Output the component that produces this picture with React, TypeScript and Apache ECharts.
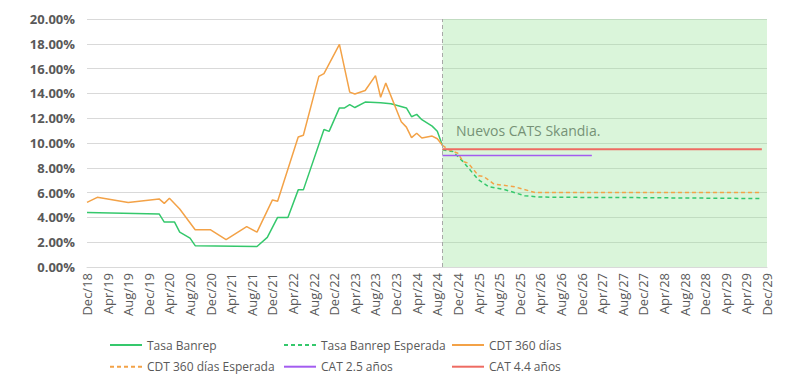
import React, { useEffect, useRef } from "react";
import * as echarts from "echarts";

// ---- Data -----------------------------------------------------------------
const monthNames = ["Jan", "Feb", "Mar", "Apr", "May", "Jun", "Jul", "Aug", "Sep", "Oct", "Nov", "Dec"];
// Monthly categories from Dec/18 to Dec/29
const categories: string[] = [];
for (let i = 0; i <= 132; i++) {
  const m = (11 + i) % 12;
  const y = 18 + Math.floor((11 + i) / 12);
  categories.push(`${monthNames[m]}/${y}`);
}

// Tick labels shown every 4 months (as printed in the reference)
const tickLabels = [
  "Dec/18", "Apr/19", "Aug/19", "Dec/19", "Apr/20", "Aug/20", "Dec/20", "Apr/21", "Aug/21",
  "Dec/21", "Apr/22", "Aug/22", "Dec/22", "Apr/23", "Aug/23", "Dec/23", "Apr/24", "Aug/24",
  "Dec/24", "Apr/25", "Aug/25", "Dec/25", "Apr/26", "Aug/26", "Dec/26", "Apr/27", "Aug/27",
  "Dec/27", "Apr/28", "Aug/28", "Dec/28", "Apr/29", "Apr/29", "Dec/29",
];

const tasaBanrep: [string, number][] = [
  ["Dec/18", 4.4], ["Feb/20", 4.28], ["Mar/20", 3.62], ["May/20", 3.62], ["Jun/20", 2.81],
  ["Aug/20", 2.33], ["Sep/20", 1.72], ["Sep/21", 1.65], ["Nov/21", 2.39], ["Jan/22", 4.0],
  ["Mar/22", 4.0], ["May/22", 6.22], ["Jun/22", 6.22], ["Oct/22", 11.09], ["Nov/22", 10.94],
  ["Jan/23", 12.83], ["Feb/23", 12.83], ["Mar/23", 13.09], ["Apr/23", 12.86], ["Jun/23", 13.3],
  ["Sep/23", 13.25], ["Nov/23", 13.17], ["Feb/24", 12.83], ["Mar/24", 12.12], ["Apr/24", 12.31],
  ["May/24", 11.88], ["Jul/24", 11.36], ["Aug/24", 10.94], ["Sep/24", 9.8],
];

const tasaBanrepEsperada: [string, number][] = [
  ["Sep/24", 9.45], ["Nov/24", 9.32], ["Jan/25", 8.5], ["Feb/25", 8.0], ["Apr/25", 7.03],
  ["Jun/25", 6.47], ["Sep/25", 6.25], ["Jan/26", 5.74], ["Apr/26", 5.64], ["Aug/26", 5.62],
  ["Sep/27", 5.6], ["Nov/29", 5.52],
];

const cdt360: [string, number][] = [
  ["Dec/18", 5.21], ["Feb/19", 5.62], ["Aug/19", 5.21], ["Feb/20", 5.49], ["Mar/20", 5.13],
  ["Apr/20", 5.54], ["Jun/20", 4.68], ["Sep/20", 3.0], ["Dec/20", 3.0], ["Mar/21", 2.2],
  ["Jul/21", 3.25], ["Sep/21", 2.81], ["Dec/21", 5.41], ["Jan/22", 5.3], ["May/22", 10.49],
  ["Jun/22", 10.63], ["Sep/22", 15.37], ["Oct/22", 15.6], ["Jan/23", 17.95], ["Mar/23", 14.1],
  ["Apr/23", 13.95], ["Jun/23", 14.23], ["Aug/23", 15.43], ["Sep/23", 13.69], ["Oct/23", 14.83],
  ["Jan/24", 11.71], ["Feb/24", 11.28], ["Mar/24", 10.43], ["Apr/24", 10.79], ["May/24", 10.4],
  ["Jul/24", 10.56], ["Aug/24", 10.34], ["Sep/24", 9.82],
];

const cdt360Esperada: [string, number][] = [
  ["Sep/24", 9.82], ["Oct/24", 9.5], ["Dec/24", 9.17], ["Jan/25", 8.5], ["Feb/25", 8.38],
  ["Apr/25", 7.36], ["May/25", 7.3], ["Jul/25", 6.69], ["Nov/25", 6.47], ["Mar/26", 6.0],
  ["Nov/29", 6.0],
];

const cat25: [string, number][] = [["Sep/24", 9.0], ["Feb/27", 9.0]];
const cat44: [string, number][] = [["Sep/24", 9.5], ["Nov/29", 9.5]];

const annotation = "Nuevos CATS Skandia.";
const forecastStart = "Sep/24";
const forecastEnd = "Dec/29";

// ---- Styles ---------------------------------------------------------------
const FONT = '"Open Sans", sans-serif';
const TEXT = "#595959";
const GREEN = "#35c86c";
const ORANGE = "#f3a247";
const PURPLE = "#a35cf0";
const RED = "#ee6b62";

export default function App() {
  const ref = useRef<HTMLDivElement>(null);
  useEffect(() => {
    if (!ref.current) return;
    const chart = echarts.init(ref.current, null, { renderer: "svg" });
    const lineSeries = (name: string, data: any, color: string, dashed: boolean, width = 1.5) => ({
      name,
      type: "line",
      data,
      symbol: "none",
      connectNulls: true,
      z: 3,
      lineStyle: { color, width, type: dashed ? [4, 3] : "solid" },
      itemStyle: { color },
    });
    const legendBase = {
      orient: "vertical",
      top: 334,
      itemWidth: 32,
      itemHeight: 14,
      itemGap: 9.7,
      itemStyle: { opacity: 0 },
      textStyle: { color: TEXT, fontSize: 12, fontFamily: FONT },
    };
    chart.setOption({
      animation: false,
      grid: { left: 87, right: 33, top: 19, bottom: 119 },
      xAxis: {
        type: "category",
        data: categories,
        boundaryGap: false,
        axisTick: { show: false },
        axisLine: { lineStyle: { color: "#d9d9d9" } },
        axisLabel: {
          interval: 3,
          rotate: 90,
          margin: 6,
          color: TEXT,
          fontSize: 13,
          fontFamily: FONT,
          formatter: (_v: string, i: number) => tickLabels[i / 4] ?? "",
        },
      },
      yAxis: {
        type: "value",
        min: 0,
        max: 20,
        interval: 2,
        axisLine: { show: false },
        axisTick: { show: false },
        axisLabel: {
          margin: 12,
          color: TEXT,
          fontSize: 13,
          fontWeight: "bold",
          fontFamily: FONT,
          formatter: (v: number) => v.toFixed(2) + "%",
        },
        splitLine: { lineStyle: { color: "#d9d9d9", width: 1 } },
      },
      legend: [
        { ...legendBase, left: 104, data: ["Tasa Banrep", "CDT 360 días Esperada"] },
        { ...legendBase, left: 278, data: ["Tasa Banrep Esperada", "CAT 2.5 años"] },
        { ...legendBase, left: 446, data: ["CDT 360 días", "CAT 4.4 años"] },
      ],
      graphic: [
        {
          type: "text",
          left: 456,
          top: 123,
          style: { text: annotation, fill: "#666666", font: `14px ${FONT}` },
        },
      ],
      series: [
        {
          name: "forecast-zone",
          type: "line",
          data: [],
          z: 1,
          markArea: {
            silent: true,
            itemStyle: { color: "rgba(150, 225, 150, 0.35)" },
            data: [[{ xAxis: forecastStart }, { xAxis: forecastEnd }]],
          },
          markLine: {
            silent: true,
            symbol: "none",
            label: { show: false },
            lineStyle: { color: "#a8a8a8", type: [4, 3], width: 1 },
            data: [{ xAxis: forecastStart }],
          },
        },
        lineSeries("Tasa Banrep", tasaBanrep, GREEN, false),
        lineSeries("Tasa Banrep Esperada", tasaBanrepEsperada, GREEN, true),
        lineSeries("CDT 360 días", cdt360, ORANGE, false),
        lineSeries("CDT 360 días Esperada", cdt360Esperada, ORANGE, true),
        lineSeries("CAT 2.5 años", cat25, PURPLE, false),
        lineSeries("CAT 4.4 años", cat44, RED, false, 2),
      ],
    });
    return () => chart.dispose();
  }, []);
  return (
    <div
      ref={ref}
      style={{ position: "absolute", left: 0, top: 0, width: 800, height: 386 }}
    />
  );
}
